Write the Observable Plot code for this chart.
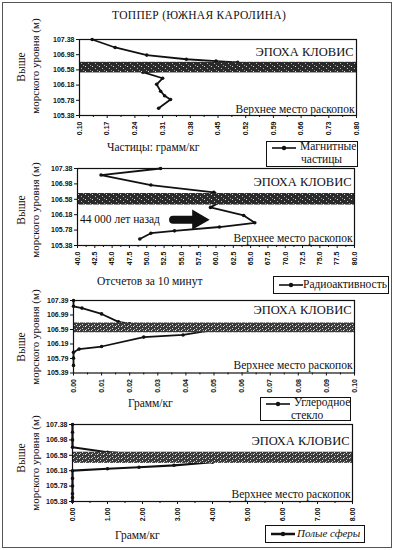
<!DOCTYPE html>
<html><head><meta charset="utf-8">
<script src="https://cdn.jsdelivr.net/npm/d3@7"></script>
<script src="https://cdn.jsdelivr.net/npm/@observablehq/plot@0.6"></script>
<style>
body{margin:0;background:#fff;}
#fig{position:relative;width:395px;height:550px;overflow:hidden;font-family:"Liberation Serif",serif;color:#111;background:#fff;}
#border{position:absolute;left:2px;top:2px;width:390px;height:546px;border:1px solid #555;box-sizing:border-box;}
.t{position:absolute;white-space:nowrap;line-height:1;font-size:11px;transform:translateY(-50%);}
.rot{position:absolute;white-space:nowrap;line-height:1;font-size:11px;transform:translate(-50%,-50%) rotate(-90deg);}
.leg{position:absolute;border:1.5px solid #111;background:#fff;box-sizing:border-box;overflow:hidden;}
.panel{position:absolute;left:0;}
</style></head><body>
<svg width="0" height="0" style="position:absolute">
<defs>
<pattern id="speckDark" width="7" height="5" patternUnits="userSpaceOnUse">
<rect width="7" height="5" fill="#2a2a2a"/>
<rect x="1" y="1" width="1" height="1" fill="#ddd"/>
<rect x="4" y="3" width="1" height="1" fill="#bbb"/>
<rect x="6" y="0" width="1" height="1" fill="#999"/>
</pattern>
<pattern id="speckLight" width="6" height="4" patternUnits="userSpaceOnUse">
<rect width="6" height="4" fill="#3a3a3a"/>
<rect x="1" y="0" width="1" height="1" fill="#eee"/>
<rect x="4" y="2" width="1" height="1" fill="#ddd"/>
<rect x="2" y="3" width="1" height="1" fill="#bbb"/>
<rect x="5" y="0" width="1" height="1" fill="#aaa"/>
</pattern>
</defs></svg>
<div id="fig"><div id="border"></div></div>
<script>
// ---------- DATA ----------
const titleText = "ТОППЕР (ЮЖНАЯ КАРОЛИНА)";
const yAxisLine1 = "Выше";
const yAxisLine2 = "морского уровня (м)";
const epochLabel = "ЭПОХА КЛОВИС";
const siteLabel = "Верхнее место раскопок";
const agoLabel = "44 000 лет назад";

// Panel 1: magnetic particles
const magX = [0.132, 0.19, 0.27, 0.37, 0.445, 0.50, 0.52, 0.40, 0.26, 0.31, 0.295, 0.305, 0.315, 0.33, 0.30];
const magY = [107.38, 107.17, 106.97, 106.86, 106.81, 106.78, 106.70, 106.60, 106.52, 106.36, 106.20, 106.02, 105.90, 105.80, 105.57];
const magXTicks = [0.10, 0.17, 0.24, 0.31, 0.38, 0.45, 0.52, 0.59, 0.66, 0.73, 0.80];
const magYTicks = [107.38, 106.98, 106.58, 106.18, 105.78, 105.38];
const magBand = [106.50, 106.78];

// Panel 2: radioactivity
const radX = [52.0, 43.4, 50.6, 59.7, 61.5, 59.2, 64.0, 65.6, 60.5, 54.0, 50.6, 49.0];
const radY = [107.38, 107.21, 106.95, 106.76, 106.60, 106.37, 106.16, 105.97, 105.86, 105.76, 105.70, 105.55];
const radXTicks = [40.0, 42.5, 45.0, 47.5, 50.0, 52.5, 55.0, 57.5, 60.0, 62.5, 65.0, 67.5, 70.0, 72.5, 75.0, 77.5, 80.0];
const radYTicks = [107.38, 106.98, 106.58, 106.18, 105.78, 105.38];
const radBand = [106.43, 106.73];
const arrowShaftX = [53.8, 56.6];
const arrowHeadX = [57.4];
const arrowY = 106.05;

// Panel 3: carbon glass
const glassX = [0.000, 0.000, 0.003, 0.010, 0.016, 0.020, 0.035, 0.050, 0.039, 0.025, 0.010, 0.002, 0.000, 0.000, 0.000];
const glassY = [107.39, 107.23, 107.18, 107.02, 106.80, 106.75, 106.68, 106.58, 106.44, 106.38, 106.12, 106.05, 105.96, 105.80, 105.60];
const glassXTicks = [0.00, 0.01, 0.02, 0.03, 0.04, 0.05, 0.06, 0.07, 0.08, 0.09, 0.10];
const glassYTicks = [107.39, 106.99, 106.59, 106.19, 105.79, 105.39];
const glassBand = [106.50, 106.77];

// Panel 4: hollow spheres
const sphX = [0, 0, 0, 0, 1.0, 1.9, 2.9, 4.0, 2.9, 1.9, 1.0, 0, 0, 0, 0, 0, 0];
const sphY = [107.38, 107.18, 106.98, 106.79, 106.66, 106.60, 106.51, 106.40, 106.32, 106.27, 106.23, 106.18, 105.98, 105.78, 105.58, 105.48, 105.38];
const sphXTicks = [0.00, 1.00, 2.00, 3.00, 4.00, 5.00, 6.00, 7.00, 8.00];
const sphYTicks = [107.38, 106.98, 106.58, 106.18, 105.78, 105.38];
const sphBand = [106.37, 106.66];

const xTitles = ["Частицы: грамм/кг", "Отсчетов за 10 минут", "Грамм/кг", "Грамм/кг"];
const legendNames = [["Магнитные", "частицы"], ["Радиоактивность"], ["Углеродное", "стекло"], ["Полые сферы"]];

// ---------- DRAW ----------
const fig = document.getElementById("fig");
const SERIF = "'Liberation Serif', 'DejaVu Serif', serif";

function mids(t) { return t.slice(1).map((v, i) => (v + t[i]) / 2); }

function panel(o) {
  const data = o.xs.map((x, i) => ({x, y: o.ys[i]}));
  const xd = [o.xTicks[0], o.xTicks[o.xTicks.length - 1]];
  const yd = [o.yTicks[o.yTicks.length - 1], o.yTicks[0]];
  const marks = [
    Plot.line(data, {x: "x", y: "y", stroke: "#111", strokeWidth: o.sw}),
    Plot.dot(data, {x: "x", y: "y", r: 1.8, fill: "#111"}),
    Plot.rect([o.band], {x1: () => xd[0], x2: () => xd[1], y1: d => d[0], y2: d => d[1], fill: o.bandFill}),
    Plot.frame({stroke: "#111", strokeWidth: 1.2}),
    Plot.axisY({ticks: o.yTicks, tickFormat: d => d.toFixed(2), tickSize: 3, tickPadding: 2, label: null}),
    Plot.axisX({ticks: o.xTicks, tickFormat: d => d.toFixed(o.xDec), tickSize: 3, tickPadding: 3, tickRotate: -90, label: null}),
    Plot.axisX({ticks: mids(o.xTicks), tickFormat: () => "", tickSize: 2, label: null}),
    Plot.text([epochLabel], {frameAnchor: "top-right", dx: -3, dy: o.epochDy, lineAnchor: "top", fontFamily: SERIF, fontSize: 12.5, fontWeight: "normal", fill: "#111", letterSpacing: "0.5px"}),
    Plot.text([siteLabel], {frameAnchor: "bottom-right", dx: -2, dy: o.siteDy, lineAnchor: "bottom", fontFamily: SERIF, fontSize: 11.5, fontWeight: "normal", fill: "#111"})
  ];
  if (o.extra) marks.push(...o.extra);
  const p = Plot.plot({
    width: 395, height: o.height,
    marginTop: o.mt, marginBottom: o.mb, marginLeft: o.ml, marginRight: o.mr,
    x: {type: "linear", domain: xd},
    y: {type: "linear", domain: yd},
    style: {fontFamily: "Liberation Sans", fontSize: "7px", fontWeight: "bold", background: "transparent", color: "#111"},
    marks
  });
  p.classList.add("panel");
  p.style.top = o.top + "px";
  fig.appendChild(p);
}

panel({top: 30, height: 110, mt: 9, mb: 25, ml: 79, mr: 39, xs: magX, ys: magY, xTicks: magXTicks, xDec: 2, yTicks: magYTicks, band: magBand, bandFill: "url(#speckDark)", sw: 1.8, epochDy: 8, siteDy: -3});

panel({top: 158, height: 120, mt: 10, mb: 33, ml: 77, mr: 41, xs: radX, ys: radY, xTicks: radXTicks, xDec: 1, yTicks: radYTicks, band: radBand, bandFill: "url(#speckDark)", sw: 1.8, epochDy: 9, siteDy: -4,
  extra: [
    Plot.text([agoLabel], {x: () => 40.35, y: () => arrowY, textAnchor: "start", fontFamily: SERIF, fontSize: 11.5, fontWeight: "normal", fill: "#111"}),
    Plot.line(arrowShaftX.map(x => ({x, y: arrowY})), {x: "x", y: "y", stroke: "#111", strokeWidth: 8}),
    Plot.dot(arrowHeadX, {x: d => d, y: () => arrowY, symbol: "triangle", rotate: 90, r: 7.5, fill: "#111"})
  ]});

panel({top: 290, height: 110, mt: 10, mb: 27.5, ml: 73, mr: 41, xs: glassX, ys: glassY, xTicks: glassXTicks, xDec: 2, yTicks: glassYTicks, band: glassBand, bandFill: "url(#speckLight)", sw: 1.7, epochDy: 5, siteDy: -4});

panel({top: 414, height: 110, mt: 10, mb: 23, ml: 72, mr: 43, xs: sphX, ys: sphY, xTicks: sphXTicks, xDec: 2, yTicks: sphYTicks, band: sphBand, bandFill: "url(#speckLight)", sw: 2.2, epochDy: 12, siteDy: -4});

// ---------- TEXT ----------
function addText(cls, txt, left, top, extraStyle) {
  const d = document.createElement("div");
  d.className = cls;
  d.textContent = txt;
  d.style.left = left + "px";
  d.style.top = top + "px";
  if (extraStyle) Object.assign(d.style, extraStyle);
  fig.appendChild(d);
  return d;
}
addText("t", titleText, 112, 16, {fontSize: "11.5px", letterSpacing: "0.3px"});

const yLabelCenters = [[67, 66], [210, 210], [347, 337], [458, 463]];
yLabelCenters.forEach(([c1, c2]) => {
  addText("rot", yAxisLine1, 22, c1, {fontSize: "11.5px"});
  addText("rot", yAxisLine2, 35, c2, {fontSize: "11px"});
});

const xTitlePos = [[107, 148], [97, 282], [128, 404], [115, 536]];
xTitles.forEach((t, i) => addText("t", t, xTitlePos[i][0], xTitlePos[i][1], {fontSize: "11.5px"}));

// legends
const legendBoxes = [
  {l: 266, t: 141, w: 92, h: 26},
  {l: 273, t: 276, w: 116, h: 18},
  {l: 260, t: 397, w: 91, h: 24},
  {l: 265, t: 525, w: 100, h: 18}
];
function swatch(sw) {
  const s = d3.create("svg").attr("width", 26).attr("height", 8);
  s.append("line").attr("x1", 1).attr("x2", 25).attr("y1", 4).attr("y2", 4).attr("stroke", "#111").attr("stroke-width", sw);
  s.append("circle").attr("cx", 13).attr("cy", 4).attr("r", 2.2).attr("fill", "#111");
  return s.node();
}
legendBoxes.forEach((b, i) => {
  const box = document.createElement("div");
  box.className = "leg";
  Object.assign(box.style, {left: b.l + "px", top: b.t + "px", width: b.w + "px", height: b.h + "px"});
  fig.appendChild(box);
  const names = legendNames[i];
  const sw = swatch(i === 3 ? 2.5 : 1.6);
  sw.style.position = "absolute";
  sw.style.left = "4px";
  sw.style.top = (i === 1 || i === 3 ? (b.h / 2 - 5) : 2) + "px";
  box.appendChild(sw);
  const l1 = document.createElement("div");
  l1.textContent = names[0];
  Object.assign(l1.style, {position: "absolute", left: (i === 1 ? 29 : (i === 3 ? 31 : 33)) + "px", top: (i === 1 || i === 3 ? 1 : -2) + "px", fontSize: (i === 3 ? "11px" : "11.5px"), whiteSpace: "nowrap", lineHeight: "1.2"});
  if (i === 3) l1.style.fontStyle = "italic";
  box.appendChild(l1);
  if (names[1]) {
    const l2 = document.createElement("div");
    l2.textContent = names[1];
    Object.assign(l2.style, {position: "absolute", left: (i === 0 ? 34 : 30) + "px", top: "11px", fontSize: "11.5px", whiteSpace: "nowrap", lineHeight: "1.2"});
    box.appendChild(l2);
  }
});
</script></body></html>
